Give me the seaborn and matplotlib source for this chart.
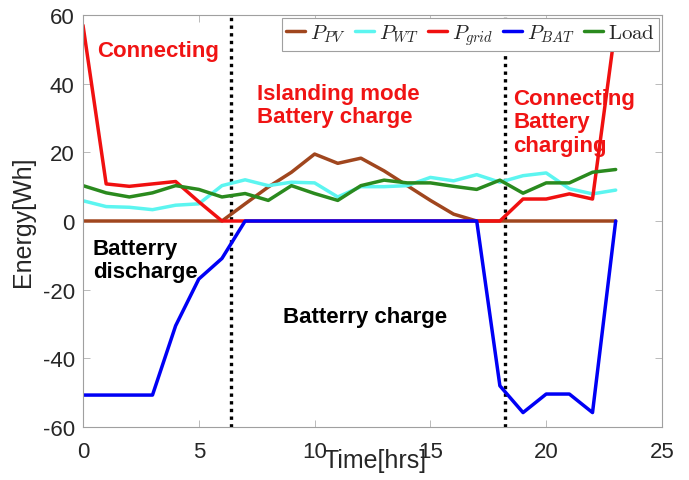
import numpy as np
import pandas as pd
import seaborn as sns
import matplotlib
matplotlib.use("Agg")
import matplotlib.pyplot as plt

hours = list(range(24))
p_pv = [0, 0, 0, 0, 0, 0, 0, 5.0, 9.9, 14.2, 19.5, 16.8, 18.3, 14.6, 10.3, 6.0, 2.0, 0,
        0, 0, 0, 0, 0, 0]
p_wt = [5.9, 4.2, 4.0, 3.3, 4.6, 5.0, 10.3, 12.0, 10.3, 11.3, 11.1, 7.0, 10.0, 10.0, 10.3,
        12.7, 11.7, 13.5, 11.3, 13.2, 14.0, 9.4, 7.9, 9.0]
p_grid = [57, 10.8, 10.1, 10.8, 11.5, 5.6, 0, 0, 0, 0, 0, 0, 0, 0, 0, 0, 0, 0,
          0, 6.4, 6.4, 7.9, 6.4, 57]
p_bat = [-50.7, -50.7, -50.7, -50.7, -30.5, -16.9, -10.9, 0, 0, 0, 0, 0, 0, 0, 0, 0, 0, 0,
         -48, -55.8, -50.4, -50.4, -55.8, 0]
load = [10.3, 8.2, 7.0, 8.2, 10.3, 9.2, 7.0, 8.0, 6.0, 10.3, 8.0, 6.0, 10.3, 11.9, 11.1,
        11.1, 10.1, 9.2, 11.9, 8.1, 11.1, 11.1, 14.2, 15.0]
series_names = [r'$P_{PV}$', r'$P_{WT}$', r'$P_{grid}$', r'$P_{BAT}$', r'$\mathrm{Load}$']
series_values = [p_pv, p_wt, p_grid, p_bat, load]
mode_switch = [6.4, 18.2]

colors = ['#A0461E', '#5CF5F0', '#F01010', '#0000F5', '#2A8A1E']

sns.set_style('white')
plt.rcParams['font.family'] = ['Liberation Sans', 'DejaVu Sans']
plt.rcParams['mathtext.fontset'] = 'cm'
plt.rcParams['axes.unicode_minus'] = False

fig = plt.figure(figsize=(6.89, 4.81), dpi=100)
ax = fig.add_axes([83/689, 1-428/481, (662-83)/689, (428-16)/481])

for name, vals, c in zip(series_names, series_values, colors):
    df = pd.DataFrame({'Time': hours, 'Energy': vals})
    sns.lineplot(data=df, x='Time', y='Energy', ax=ax, color=c, linewidth=2.5,
                 label=name)

for xv in mode_switch:
    ax.axvline(xv, color='black', linestyle=(0, (1, 1.3)), linewidth=2.4, zorder=1)

ax.set_xlim(0, 25)
ax.set_ylim(-60, 60)
ax.set_xticks([0, 5, 10, 15, 20, 25])
ax.set_yticks([-60, -40, -20, 0, 20, 40, 60])
ax.tick_params(direction='in', length=5, width=0.6, color='#b0b0b0', labelsize=16,
               labelcolor='#262626', top=True, right=True, bottom=True, left=True,
               pad=6)
ax.tick_params(axis='x', pad=10)
for s in ax.spines.values():
    s.set_color('#a0a0a0')
    s.set_linewidth(0.8)

ax.set_xlabel('Time[hrs]', fontsize=18, color='#262626')
ax.xaxis.set_label_coords(0.505, -0.05)
ax.set_ylabel('Energy[Wh]', fontsize=18, color='#262626')
ax.yaxis.set_label_coords(-0.083, 0.5)

red = '#F01414'
ax.text(0.6, 49.6, 'Connecting', color=red, fontsize=16, fontweight='bold', va='center', zorder=0)
ax.text(7.5, 33.7, 'Islanding mode\nBattery charge', color=red, fontsize=16,
        fontweight='bold', va='center', linespacing=1.15, zorder=0)
ax.text(18.57, 28.9, 'Connecting\nBattery\ncharging', color=red, fontsize=16,
        fontweight='bold', va='center', linespacing=1.15, zorder=0)
ax.text(0.43, -11.4, 'Batterry\ndischarge', color='black', fontsize=16,
        fontweight='bold', va='center', linespacing=1.15, zorder=0)
ax.text(8.64, -27.7, 'Batterry charge', color='black', fontsize=16,
        fontweight='bold', va='center', zorder=0)

leg = ax.legend(loc='upper right', ncol=5, fontsize=15, handlelength=0.9,
                handletextpad=0.25, columnspacing=0.45, borderpad=0.2,
                borderaxespad=0.15, fancybox=False, framealpha=1,
                edgecolor='#a0a0a0')
leg.get_frame().set_linewidth(0.8)

fig.savefig('out.png', dpi=100)
